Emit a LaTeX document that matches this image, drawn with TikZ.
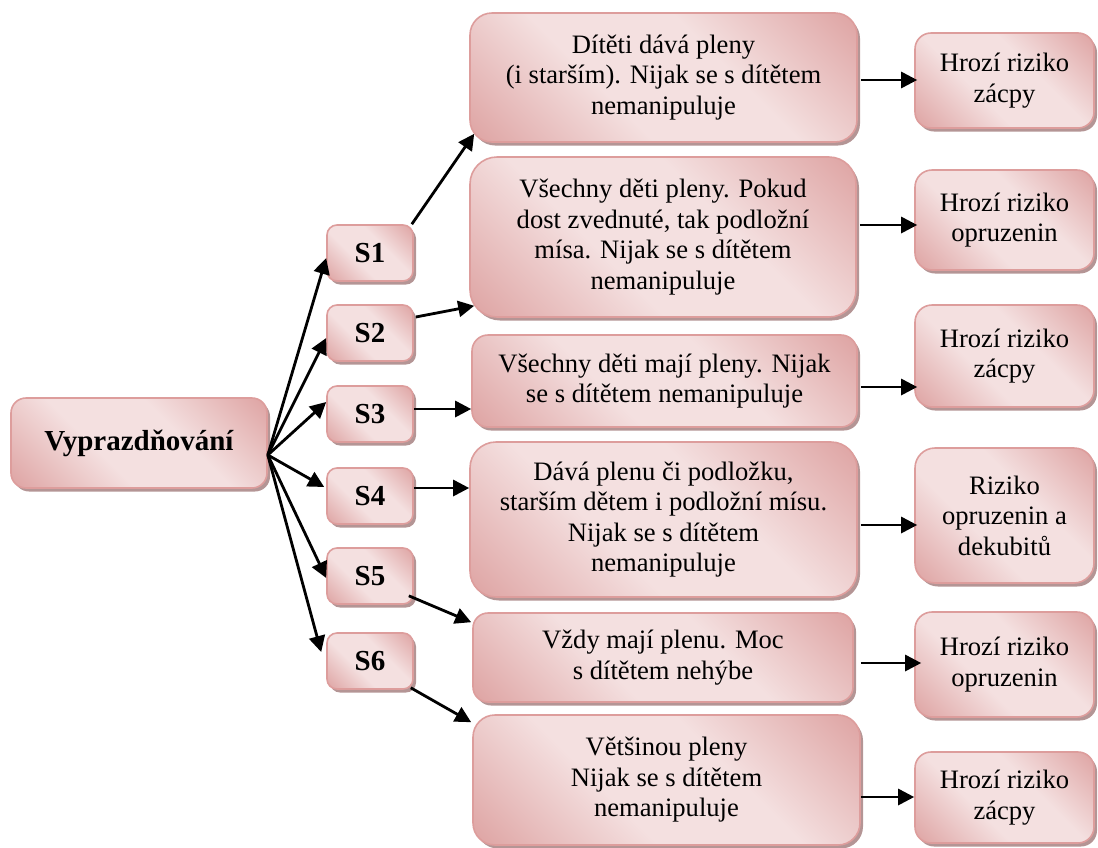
\documentclass[tikz,border=0pt]{standalone}
\usepackage{fontspec}
\setmainfont{Liberation Serif}
\usetikzlibrary{arrows.meta,shadows}

\definecolor{boxdark}{RGB}{216,147,146}
\definecolor{boxlight}{RGB}{244,224,224}
\definecolor{boxline}{RGB}{221,157,156}
\definecolor{boxshadow}{RGB}{172,138,138}

% light band along one diagonal, darker towards the two other corners
\pgfdeclarehorizontalshading{pinkband}{100bp}{color(0bp)=(boxdark); color(8bp)=(boxdark); color(40bp)=(boxlight); color(60bp)=(boxlight); color(92bp)=(boxdark); color(100bp)=(boxdark)}

\tikzset{
  card/.style={rectangle, draw=boxline, line width=1.6pt, shade, shading=pinkband,
    shading angle=45, inner sep=0pt, align=center,
    font=\fontsize{26.6pt}{30.5pt}\selectfont,
    drop shadow={shadow xshift=3pt, shadow yshift=-3.5pt, fill=boxshadow, opacity=0.9}},
  headcard/.style={card, font=\bfseries\fontsize{29pt}{32pt}\selectfont},
  link/.style={line width=2.8pt, -{Triangle[length=16pt,width=16pt]}},
}

\begin{document}
\begin{tikzpicture}[x=1pt,y=-1pt]
\useasboundingbox (0,0) rectangle (1098,847);

% root
\node[headcard, minimum width=256pt, minimum height=90pt, rounded corners=15pt] (root) at (139,443) {Vyprazdňování};

% strategies
\foreach \n/\y in {1/253, 2/333, 3/414, 4/496, 5/576, 6/661}{
  \node[headcard, minimum width=86pt, minimum height=56pt, rounded corners=10pt] (s\n) at (370,\y) {S\n};
}

% practices
\node[card, minimum width=387pt, minimum height=129pt, rounded corners=22pt] (m1) at (663.5,77.5)
  {Dítěti dává pleny\\ (i starším). Nijak se s dítětem\\ nemanipuluje};
\node[card, minimum width=386pt, minimum height=160pt, rounded corners=27pt] (m2) at (663,237)
  {Všechny děti pleny. Pokud\\ dost zvednuté, tak podložní\\ mísa. Nijak se s dítětem\\ nemanipuluje};
\node[card, minimum width=385pt, minimum height=92pt, rounded corners=16pt] (m3) at (664.5,381)
  {Všechny děti mají pleny. Nijak\\ se s dítětem nemanipuluje};
\node[card, minimum width=387pt, minimum height=155pt, rounded corners=26pt] (m4) at (663.5,519.5)
  {Dává plenu či podložku,\\ starším dětem i podložní mísu.\\ Nijak se s dítětem\\ nemanipuluje};
\node[card, minimum width=380pt, minimum height=89pt, rounded corners=15pt] (m5) at (663,657.5)
  {Vždy mají plenu. Moc\\ s dítětem nehýbe};
\node[card, minimum width=387pt, minimum height=130pt, rounded corners=22pt] (m6) at (666.5,780)
  {Většinou pleny\\ Nijak se s dítětem\\ nemanipuluje};

% risks
\node[card, minimum width=179pt, minimum height=95pt, rounded corners=16pt] (r1) at (1004.5,80.5) {Hrozí riziko\\ zácpy};
\node[card, minimum width=179pt, minimum height=100pt, rounded corners=17pt] (r2) at (1004.5,220) {Hrozí riziko\\ opruzenin};
\node[card, minimum width=179pt, minimum height=102pt, rounded corners=17pt] (r3) at (1004.5,356) {Hrozí riziko\\ zácpy};
\node[card, minimum width=179pt, minimum height=135pt, rounded corners=20pt] (r4) at (1004.5,515.5) {Riziko\\ opruzenin a\\ dekubitů};
\node[card, minimum width=179pt, minimum height=105pt, rounded corners=17pt] (r5) at (1004.5,664.5) {Hrozí riziko\\ opruzenin};
\node[card, minimum width=179pt, minimum height=91pt, rounded corners=16pt] (r6) at (1004.5,797.5) {Hrozí riziko\\ zácpy};

% root to strategies
\coordinate (hub) at ([yshift=-12pt]root.east);
\draw[link] (hub) -- ([yshift=-5pt]s1.west);
\draw[link] (hub) -- ([yshift=-5pt]s2.west);
\draw[link] (hub) -- ([yshift=12pt]s3.west);
\draw[link] (hub) -- ([xshift=-2pt,yshift=9pt]s4.west);
\draw[link] (hub) -- ([yshift=-2pt]s5.west);
\draw[link] (hub) -- ([xshift=-5pt,yshift=9pt]s6.west);

% strategies to practices
\draw[link] ([xshift=-2pt]s1.north east) -- ([xshift=5pt,yshift=9pt]m1.south west);
\draw[link] ([xshift=2pt,yshift=16pt]s2.east) -- ([xshift=5pt,yshift=12pt]m2.south west);
\draw[link] ([yshift=5pt]s3.east) -- ([yshift=5pt]s3.east -| m3.west);
\draw[link] ([yshift=8pt]s4.east) -- ([yshift=8pt]s4.east -| m4.west);
\draw[link] ([xshift=-5pt,yshift=9pt]s5.south east) -- ([xshift=-1pt,yshift=-10pt]m5.north west);
\draw[link] ([xshift=-3pt,yshift=2pt]s6.south east) -- ([xshift=-1pt,yshift=-8pt]m6.north west);

% practices to risks
\draw[link] ([xshift=3pt,yshift=-2.5pt]m1.east) -- ([xshift=3pt,yshift=-2.5pt]m1.east -| r1.west);
\draw[link] ([xshift=3pt,yshift=12pt]m2.east) -- ([xshift=3pt,yshift=12pt]m2.east -| r2.west);
\draw[link] ([xshift=3pt,yshift=-6pt]m3.east) -- ([xshift=3pt,yshift=-6pt]m3.east -| r3.west);
\draw[link] ([xshift=3pt,yshift=-5.5pt]m4.east) -- ([xshift=3pt,yshift=-5.5pt]m4.east -| r4.west);
\draw[link] ([xshift=7pt,yshift=-5.5pt]m5.east) -- ([xshift=7pt,yshift=-5.5pt]m5.east -| r5.west);
\draw[link] ([xshift=0pt,yshift=-17pt]m6.east) -- ([yshift=-17pt]m6.east -| r6.west);
\end{tikzpicture}
\end{document}
